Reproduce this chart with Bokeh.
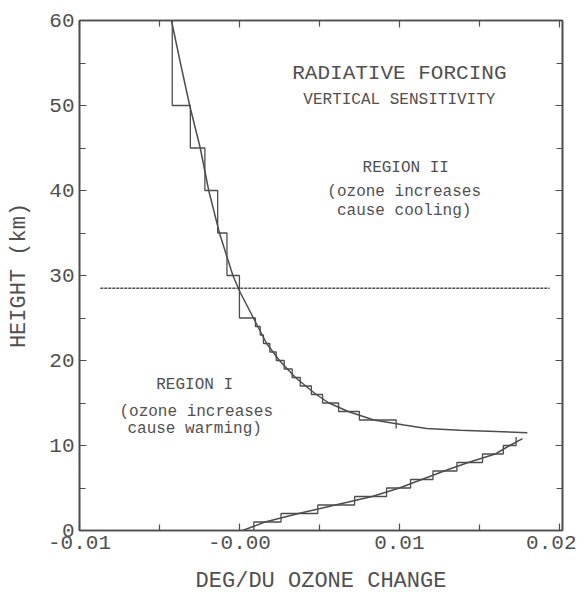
from bokeh.plotting import figure
from bokeh.models import FixedTicker, CustomJSTickFormatter, LinearAxis, Label
from bokeh.embed import file_html
from bokeh.resources import INLINE

# ---------------- data ----------------
# smooth sensitivity curve, upper branch (Region II), height km / deg per DU
upper_h = [60, 55, 50, 45, 40, 35, 30, 28, 26, 24, 22, 20, 18, 16, 15, 14, 13, 12.4, 12, 11.8, 11.5]
upper_x = [-0.00425, -0.00369, -0.00311, -0.00245, -0.00192, -0.00125, -0.00041, 0.00005,
           0.0006, 0.00115, 0.0017, 0.0025, 0.0035, 0.0048, 0.0056, 0.0068, 0.0084, 0.0103,
           0.0117, 0.0138, 0.0180]

# smooth curve, lower branch (Region I)
lower_h = [0, 0.5, 1, 2, 3, 4, 5, 6, 7, 8, 9, 10, 10.8]
lower_x = [0.0002, 0.0009, 0.0016, 0.0037, 0.0060, 0.0083, 0.0100, 0.0114, 0.0128,
           0.0143, 0.0160, 0.0169, 0.0177]

# layer (step) values, upper branch
upper_layer_bounds = [60, 50, 45, 40, 35, 30, 25, 24, 23, 22, 21, 20, 19, 18, 17, 16, 15, 14, 13, 12]
upper_layer_vals = [-0.0042, -0.00307, -0.00216, -0.00136, -0.00078, 0.0000, 0.0010, 0.0013,
                    0.0015, 0.0019, 0.0023, 0.0028, 0.0033, 0.0038, 0.0045, 0.0052, 0.0062,
                    0.0075, 0.0098]

# layer (step) values, lower branch
lower_layer_bounds = [0, 1, 2, 3, 4, 5, 6, 7, 8, 9, 10, 11]
lower_layer_vals = [0.0009, 0.0026, 0.0049, 0.0072, 0.0092, 0.0107, 0.0121, 0.0136,
                    0.0152, 0.0165, 0.0173]

# dividing (dotted) line
divide_h = 28.5
divide_x = [-0.0087, 0.0194]

x_ticks = [-0.01, 0.0, 0.01, 0.02]
x_tick_labels = ["-0.01", "-0.00", "0.01", "0.02"]
x_minor = [-0.005, 0.005, 0.015]
y_ticks = [0, 10, 20, 30, 40, 50, 60]
y_minor = [5, 15, 25, 35, 45, 55]

INK = "#4d4d4d"
TXT = "#505050"
MONO = "Liberation Mono"


def stairs(bounds, vals):
    xs, ys = [], []
    for i, v in enumerate(vals):
        xs += [v, v]
        ys += [bounds[i], bounds[i + 1]]
    return xs, ys


p = figure(frame_width=483, frame_height=510, x_range=(-0.01, 0.0202), y_range=(0, 60),
           output_backend="svg", toolbar_location=None,
           min_border_left=79, min_border_right=14, min_border_top=20, min_border_bottom=62)
p.grid.visible = False
p.background_fill_color = "white"
p.border_fill_color = "white"
p.outline_line_color = INK
p.outline_line_width = 1.6

# smooth curves
p.line(upper_x, upper_h, line_color=INK, line_width=1.5)
p.line(lower_x, lower_h, line_color=INK, line_width=1.5)

# step profiles
ux, uy = stairs(upper_layer_bounds, upper_layer_vals)
p.line(ux, uy, line_color=INK, line_width=1.3)
lx, ly = stairs(lower_layer_bounds, lower_layer_vals)
p.line(lx, ly, line_color=INK, line_width=1.3)

# dotted divide line
p.line(divide_x, [divide_h, divide_h], line_color=INK, line_width=1.3, line_dash="3 1")

fmt_code = """
let best = 0; let d = Infinity;
for (let i = 0; i < tv.length; i++) {
  const e = Math.abs(tv[i] - tick);
  if (e < d) { d = e; best = i; }
}
return tl[best];
"""
xfmt = CustomJSTickFormatter(args=dict(tv=x_ticks, tl=x_tick_labels), code=fmt_code)
blank = CustomJSTickFormatter(code="return '';")


def style(ax):
    ax.axis_line_color = INK
    ax.axis_line_width = 1.6
    ax.major_tick_line_color = INK
    ax.minor_tick_line_color = INK
    ax.major_tick_line_width = 1.2
    ax.minor_tick_line_width = 1.2
    ax.major_tick_in = 7
    ax.major_tick_out = 0
    ax.minor_tick_in = 6
    ax.minor_tick_out = 0
    ax.major_label_text_font = MONO
    ax.major_label_text_font_size = "21px"
    ax.major_label_text_color = TXT
    ax.major_label_standoff = 5
    ax.axis_label_text_font = MONO
    ax.axis_label_text_font_size = "22px"
    ax.axis_label_text_font_style = "normal"
    ax.axis_label_text_color = TXT


xax = p.xaxis[0]
xax.ticker = FixedTicker(ticks=x_ticks, minor_ticks=x_minor)
xax.formatter = xfmt
style(xax)
xax.axis_label = "DEG/DU OZONE CHANGE"
xax.axis_label_standoff = 17

yax = p.yaxis[0]
yax.ticker = FixedTicker(ticks=y_ticks, minor_ticks=y_minor)
style(yax)
yax.axis_label = "HEIGHT (km)"
yax.axis_label_standoff = 14

right = LinearAxis(ticker=FixedTicker(ticks=y_ticks, minor_ticks=y_minor), formatter=blank)
style(right)
right.major_label_standoff = 0
right.axis_label_standoff = 0
p.add_layout(right, "right")

top = LinearAxis(ticker=FixedTicker(ticks=x_ticks, minor_ticks=x_minor), formatter=blank)
style(top)
top.major_label_standoff = 0
top.axis_label_standoff = 0
p.add_layout(top, "above")

# annotations
annots = [
    ("RADIATIVE FORCING", 0.0100, 53.8, "21px"),
    ("VERTICAL SENSITIVITY", 0.0100, 50.6, "16px"),
    ("REGION II", 0.0104, 42.7, "16px"),
    ("(ozone increases", 0.0103, 39.8, "16px"),
    ("cause cooling)", 0.0103, 37.6, "16px"),
    ("REGION I", -0.0028, 17.1, "16px"),
    ("(ozone increases", -0.0027, 14.0, "16px"),
    ("cause warming)", -0.0028, 11.9, "16px"),
]
for t, x, y, fs in annots:
    p.add_layout(Label(x=x, y=y, text=t, text_font=MONO, text_font_size=fs,
                       text_color=TXT, text_align="center", text_baseline="middle"))

open("out.html", "w").write(file_html(p, INLINE))
